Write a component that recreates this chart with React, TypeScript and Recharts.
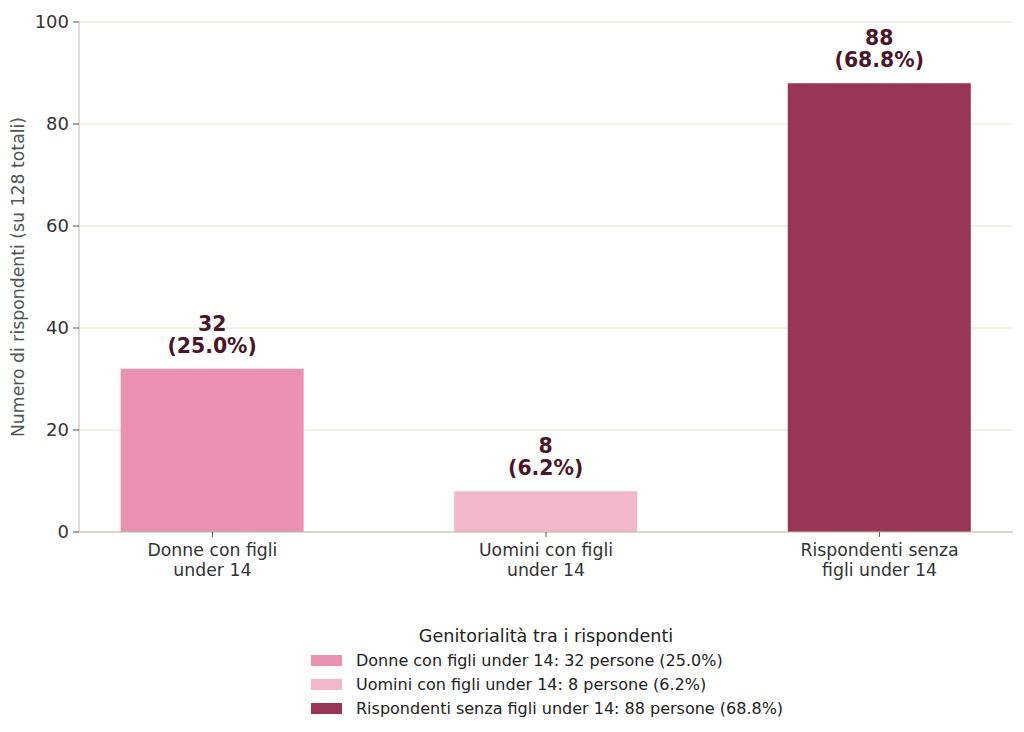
import React from 'react';
import { BarChart, Bar, XAxis, YAxis, CartesianGrid, Cell, LabelList } from 'recharts';

const categories = ['Donne con figli\nunder 14', 'Uomini con figli\nunder 14', 'Rispondenti senza\nfigli under 14'];
const legendNames = ['Donne con figli under 14', 'Uomini con figli under 14', 'Rispondenti senza figli under 14'];
const counts = [32, 8, 88];
const percents = ['25.0%', '6.2%', '68.8%'];
const colors = ['#ea90b0', '#f2b7cb', '#993557'];
const yTicks = [0, 20, 40, 60, 80, 100];

const data = categories.map((name, i) => ({ x: i, name, value: counts[i], pct: percents[i] }));

const FONT = '"DejaVu Sans", sans-serif';

const XTick = (props: any) => {
  const { x, y, payload } = props;
  const lines = categories[payload.value].split('\n');
  return (
    <g>
      {lines.map((l, i) => (
        <text key={i} x={x} y={y + 17 + i * 20} textAnchor="middle" fontSize={17.3} fill="#333" fontFamily={FONT}>
          {l}
        </text>
      ))}
    </g>
  );
};

const BarValue = (props: any) => {
  const { x, y, width, index } = props;
  const cx = x + width / 2;
  return (
    <g fontFamily={FONT} fontWeight="bold" fontSize={20.4} fill="#4a1528" textAnchor="middle">
      <text x={cx} y={y - 38}>{counts[index]}</text>
      <text x={cx} y={y - 16}>({percents[index]})</text>
    </g>
  );
};

export default function App() {
  return (
    <div style={{ position: 'absolute', left: 0, top: 0, width: 1024, height: 732, background: '#fff', fontFamily: FONT }}>
      <BarChart width={1024} height={732} data={data} margin={{ top: 22, right: 11, bottom: 0, left: 0 }}>
        <CartesianGrid vertical={false} stroke="#e4e4d2" strokeWidth={1} />
        <XAxis
          dataKey="x"
          type="number"
          domain={[-0.4, 2.4]}
          ticks={[0, 1, 2]}
          height={200}
          stroke="#bdbdb0"
          tickLine={{ stroke: '#555' }}
          tickSize={5}
          tick={<XTick />}
          allowDataOverflow
        />
        <YAxis
          domain={[0, 100]}
          ticks={yTicks}
          width={79}
          stroke="#bdbdb0"
          tickLine={{ stroke: '#555' }}
          tickSize={6}
          tick={{ fontSize: 18, fill: '#333', fontFamily: FONT, dx: -2 }}
          label={{
            content: (p: any) => {
              const vb = p.viewBox;
              const cy = vb.y + vb.height / 2;
              return (
                <text x={24} y={cy} transform={`rotate(-90, 24, ${cy})`} textAnchor="middle" fontSize={17.3} fill="#555" fontFamily={FONT}>
                  Numero di rispondenti (su 128 totali)
                </text>
              );
            },
          }}
        />
        <Bar dataKey="value" barSize={183} isAnimationActive={false}>
          {data.map((d, i) => (
            <Cell key={i} fill={colors[i]} />
          ))}
          <LabelList dataKey="value" content={<BarValue />} />
        </Bar>
      </BarChart>
      <div style={{ position: 'absolute', left: 311, top: 624, width: 480, fontFamily: FONT, color: '#222' }}>
        <div style={{ fontSize: 17.6, textAlign: 'center', width: 470, lineHeight: '24px' }}>Genitorialità tra i rispondenti</div>
        {legendNames.map((n, i) => (
          <div key={i} style={{ display: 'flex', alignItems: 'center', height: 24, fontSize: 16 }}>
            <span style={{ display: 'inline-block', width: 31, height: 11, background: colors[i], marginRight: 14 }} />
            <span>{n}: {counts[i]} persone ({percents[i]})</span>
          </div>
        ))}
      </div>
    </div>
  );
}
